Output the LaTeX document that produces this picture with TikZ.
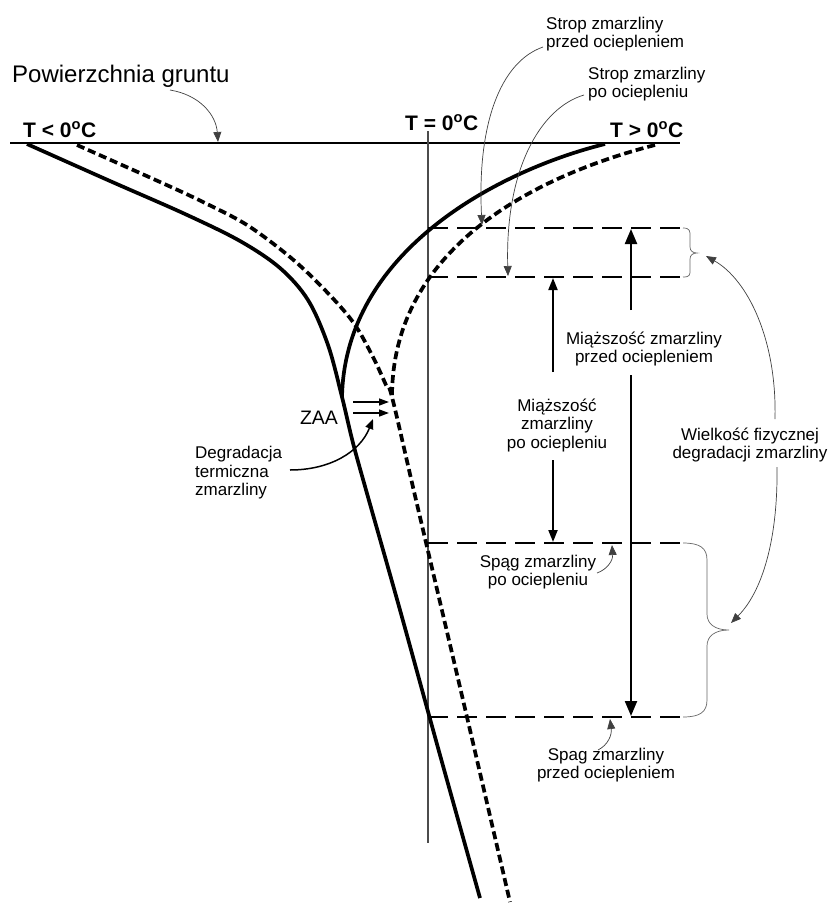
\documentclass[tikz,border=0pt]{standalone}
\usepackage{fontspec}
\setmainfont{Liberation Sans}
\usetikzlibrary{arrows.meta}
\begin{document}
\begin{tikzpicture}[x=1pt,y=-1pt,
  thickc/.style={line width=3.7pt, black},
  thickdash/.style={line width=3.7pt, black, dash pattern=on 8pt off 4pt},
  levelline/.style={line width=2pt, black, dash pattern=on 20pt off 9pt},
  thinarrow/.style={line width=0.7pt, black!75, -{Triangle[length=10pt,width=8pt]}},
  bracec/.style={line width=0.7pt, black!60},
  bigarrow/.style={line width=2.2pt, -{Triangle[length=15pt,width=12pt]}},
  midarrow/.style={line width=2pt, -{Triangle[length=12pt,width=9pt]}},
  lbl/.style={inner sep=0pt, font=\fontsize{17}{18.5}\selectfont},
  tlbl/.style={inner sep=0pt, font=\fontsize{21}{24}\selectfont\bfseries, anchor=base west}
]
\useasboundingbox (0,0) rectangle (828,905);

% ground surface
\coordinate (g1) at (10,143);
\coordinate (g2) at (680,143);
\draw[line width=1.2pt] (g1) -- (g2);
% T = 0 axis
\coordinate (v1) at (428,131);
\coordinate (v2) at (428,843);
\draw[line width=1.2pt, black!70] (v1) -- (v2);

% temperature labels
\node[tlbl] (tneg) at (23,137) {T < 0\textsuperscript{o}C};
\node[tlbl] (tzero) at (405,130) {T = 0\textsuperscript{o}C};
\node[tlbl] (tpos) at (610,137) {T > 0\textsuperscript{o}C};

\node[inner sep=0pt, anchor=base west, font=\fontsize{24}{28}\selectfont] (pow) at (12,82) {Powierzchnia gruntu};

% curves: before warming (solid)
\coordinate (cuspA) at (342,397);
\coordinate (cuspB) at (392,397);
\draw[thickc] plot[smooth, tension=0.55] coordinates {(27,144) (110,181) (185,214) (240,241) (280,268) (308,300) (328,345) (342,397) (353,443) (368,497) (400,610) (440,755) (480,898)};
\draw[thickc] (605,144) .. controls (500,170) and (345,250) .. (cuspA);
% curves: after warming (dashed)
\draw[thickdash] plot[smooth, tension=0.55] coordinates {(77,145) (160,182) (203,202) (247,225) (290,257) (323,288) (353,322) (373,357) (386,385) (392,397) (416,500) (463,700) (510,902)};
\draw[thickdash] (655,145) .. controls (550,172) and (392,240) .. (cuspB);

% level lines
\coordinate (a1) at (428,228); \coordinate (a2) at (683,228);
\coordinate (b1) at (428,277); \coordinate (b2) at (683,277);
\coordinate (c1) at (428,543); \coordinate (c2) at (683,543);
\coordinate (d1) at (428,717); \coordinate (d2) at (683,717);
\draw[levelline] (a1) -- (a2);
\draw[levelline] (b1) -- (b2);
\draw[levelline] (c1) -- (c2);
\draw[levelline] (d1) -- (d2);

% braces
\coordinate (bt) at (697,253);
\coordinate (bb) at (729,630);
\draw[bracec] (a2) .. controls (690,228) and (690,231) .. (690,236) -- (690,247) .. controls (690,251) and (693,253) .. (bt) .. controls (693,253) and (690,255) .. (690,259) -- (690,270) .. controls (690,275) and (690,277) .. (b2);
\draw[bracec] (c2) .. controls (700,543) and (707,548) .. (707,560) -- (707,614) .. controls (707,624) and (715,630) .. (bb) .. controls (715,630) and (707,636) .. (707,646) -- (707,700) .. controls (707,712) and (700,717) .. (d2);

% thickness labels and arrows
\node[lbl, align=center] (mprzed) at (644,349) {Miąższość zmarzliny\\przed ociepleniem};
\node[lbl, align=center] (mpo) at (557,425) {Miąższość\\zmarzliny\\po ociepleniu};
\coordinate (A1) at (631,310); \coordinate (A1t) at (631,229);
\coordinate (A2) at (631,375); \coordinate (A2t) at (631,716);
\draw[bigarrow] (A1) -- (A1t);
\draw[bigarrow] (A2) -- (A2t);
\coordinate (B1) at (553,372); \coordinate (B1t) at (553,278);
\coordinate (B2) at (553,460); \coordinate (B2t) at (553,542);
\draw[midarrow] (B1) -- (B1t);
\draw[midarrow] (B2) -- (B2t);

% top labels
\node[lbl, align=left, anchor=west] (sprzed) at (546,34) {Strop zmarzliny\\przed ociepleniem};
\node[lbl, align=left, anchor=west] (spo) at (588,84) {Strop zmarzliny\\po ociepleniu};
\coordinate (sp1) at (543,47); \coordinate (sp1t) at (482,225);
\coordinate (sp2) at (584,95); \coordinate (sp2t) at (508,276);
\draw[thinarrow] (sp1) .. controls (500,62) and (477,125) .. (sp1t);
\draw[thinarrow] (sp2) .. controls (540,108) and (505,170) .. (sp2t);

% bottom labels
\node[lbl, align=center] (gpo) at (538,572) {Spąg zmarzliny\\po ociepleniu};
\node[lbl, align=center] (gprzed) at (606,765) {Spag zmarzliny\\przed ociepleniem};
\coordinate (gp1) at (597,573); \coordinate (gp1t) at (612,545);
\coordinate (gp2) at (598,750); \coordinate (gp2t) at (610,719);
\draw[thinarrow] (gp1) .. controls (608,569) and (613,560) .. (gp1t);
\draw[thinarrow] (gp2) .. controls (608,745) and (612,735) .. (gp2t);

% degradation label
\node[lbl, align=center] (wiel) at (750,445) {Wielkość fizycznej\\degradacji zmarzliny};
\coordinate (w1) at (775,419); \coordinate (w1t) at (706,256);
\coordinate (w2) at (777,467); \coordinate (w2t) at (731,623);
\draw[thinarrow] (w1) .. controls (777,340) and (748,280) .. (w1t);
\draw[thinarrow] (w2) .. controls (778,540) and (762,592) .. (w2t);

% ground surface arrow
\coordinate (pa) at (170,90); \coordinate (pat) at (218,142);
\draw[thinarrow] (pa) .. controls (200,95) and (216,115) .. (pat);

% ZAA
\node[inner sep=0pt, font=\fontsize{19.5}{22}\selectfont] (zaa) at (319,418) {ZAA};
\coordinate (z1) at (353,402); \coordinate (z1t) at (389,402);
\coordinate (z2) at (353,413); \coordinate (z2t) at (389,413);
\draw[line width=1.5pt, -{Triangle[length=10pt,width=7pt]}] (z1) -- (z1t);
\draw[line width=1.5pt, -{Triangle[length=10pt,width=7pt]}] (z2) -- (z2t);

% thermal degradation
\node[lbl, align=left, anchor=west] (deg) at (195,473) {Degradacja\\termiczna\\zmarzliny};
\coordinate (dg) at (290,470); \coordinate (dgt) at (373,419);
\draw[line width=1.5pt, -{Triangle[length=10pt,width=8pt]}] (dg) .. controls (330,470) and (360,452) .. (dgt);
\end{tikzpicture}
\end{document}
